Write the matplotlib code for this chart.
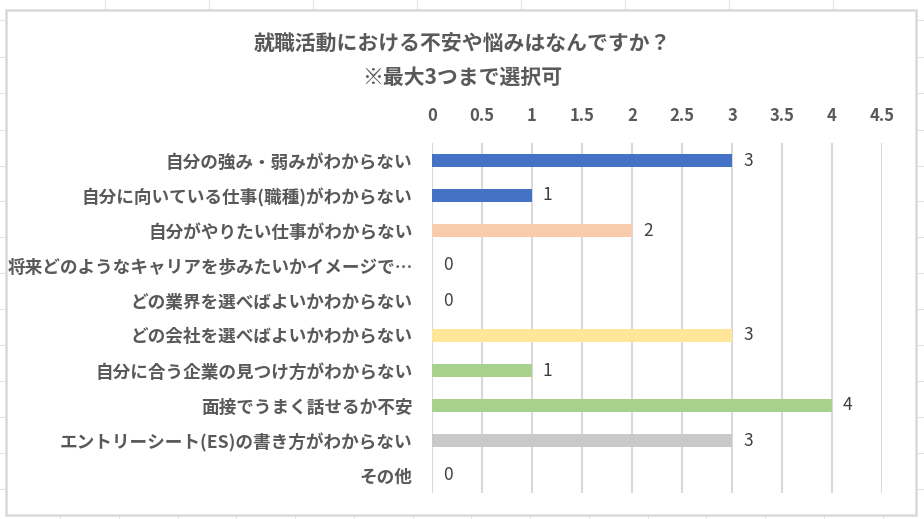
import matplotlib
matplotlib.use("Agg")
import matplotlib.pyplot as plt
from matplotlib.patches import Rectangle
from matplotlib.lines import Line2D

plt.rcParams['font.family'] = ['Noto Sans CJK JP', 'DejaVu Sans']

categories = [
    "自分の強み・弱みがわからない",
    "自分に向いている仕事(職種)がわからない",
    "自分がやりたい仕事がわからない",
    "将来どのようなキャリアを歩みたいかイメージで…",
    "どの業界を選べばよいかわからない",
    "どの会社を選べばよいかわからない",
    "自分に合う企業の見つけ方がわからない",
    "面接でうまく話せるか不安",
    "エントリーシート(ES)の書き方がわからない",
    "その他",
]
values = [3, 1, 2, 0, 0, 3, 1, 4, 3, 0]
colors = ["#4472C4", "#4472C4", "#F8CBAD", "#F8CBAD", "#FFE699",
          "#FFE699", "#A9D18E", "#A9D18E", "#C9C9C9", "#C9C9C9"]
xticks = [0, 0.5, 1, 1.5, 2, 2.5, 3, 3.5, 4, 4.5]
xtick_labels = ["0", "0.5", "1", "1.5", "2", "2.5", "3", "3.5", "4", "4.5"]
title1 = "就職活動における不安や悩みはなんですか？"
title2 = "※最大3つまで選択可"

W, H = 924, 519
fig = plt.figure(figsize=(W / 100, H / 100), dpi=100)
fig.patch.set_facecolor("white")

# spreadsheet backdrop lines
grid_c = "#E3E3E3"
for yy in [20, 57, 93, 130, 166, 201, 237, 273, 309, 345, 381, 417, 453, 489]:
    fig.add_artist(Line2D([0, 1], [1 - yy / H, 1 - yy / H], color=grid_c, lw=0.8, zorder=0))
for xx in [105, 209, 313, 417, 521, 625, 729, 833]:
    fig.add_artist(Line2D([xx / W, xx / W], [1 - 0 / H, 1 - 10 / H], color=grid_c, lw=0.8, zorder=0))
for xx in [60, 119, 178, 236, 295, 354, 413, 471, 530, 589, 648, 706, 765, 824, 883]:
    fig.add_artist(Line2D([xx / W, xx / W], [0, 1 - 515 / H], color=grid_c, lw=0.8, zorder=0))

# chart area
fig.add_artist(Rectangle((6 / W, 1 - 515 / H), 910 / W, 505 / H, transform=fig.transFigure,
                         facecolor="white", edgecolor="#D9D9D9", lw=1.8, zorder=1))

ax = fig.add_axes([432 / W, 1 - 493 / H, 450 / W, 350 / H])
ax.set_zorder(2)
ax.patch.set_alpha(0)
y = list(range(len(categories)))
ax.barh(y, values, height=0.37, color=colors, zorder=3)
ax.set_xlim(0, 4.5)
ax.set_ylim(len(categories) - 0.5, -0.5)
ax.set_xticks(xticks)
ax.set_xticklabels(xtick_labels)
ax.xaxis.tick_top()
ax.set_yticks(y)
ax.set_yticklabels(categories)
ax.grid(axis="x", color="#D9D9D9", lw=1.5, zorder=0)
ax.set_axisbelow(True)
for s in ax.spines.values():
    s.set_visible(False)
ax.tick_params(axis="x", length=0, pad=13, labelsize=12, labelcolor="#595959")
ax.tick_params(axis="y", length=0, pad=14, labelsize=12.7, labelcolor="#595959")
for lab in ax.get_xticklabels() + ax.get_yticklabels():
    lab.set_fontweight("bold")

for yi, v in zip(y, values):
    ax.annotate(str(v), xy=(v, yi), xytext=(11, 0), textcoords="offset pixels",
                ha="left", va="center", fontsize=12.5, color="#404040")

fig.text(462 / W, 1 - 44 / H, title1, ha="center", va="center", fontsize=15,
         fontweight="bold", color="#595959")
fig.text(462 / W, 1 - 77 / H, title2, ha="center", va="center", fontsize=15,
         fontweight="bold", color="#595959")

fig.savefig("out.png", dpi=100)
